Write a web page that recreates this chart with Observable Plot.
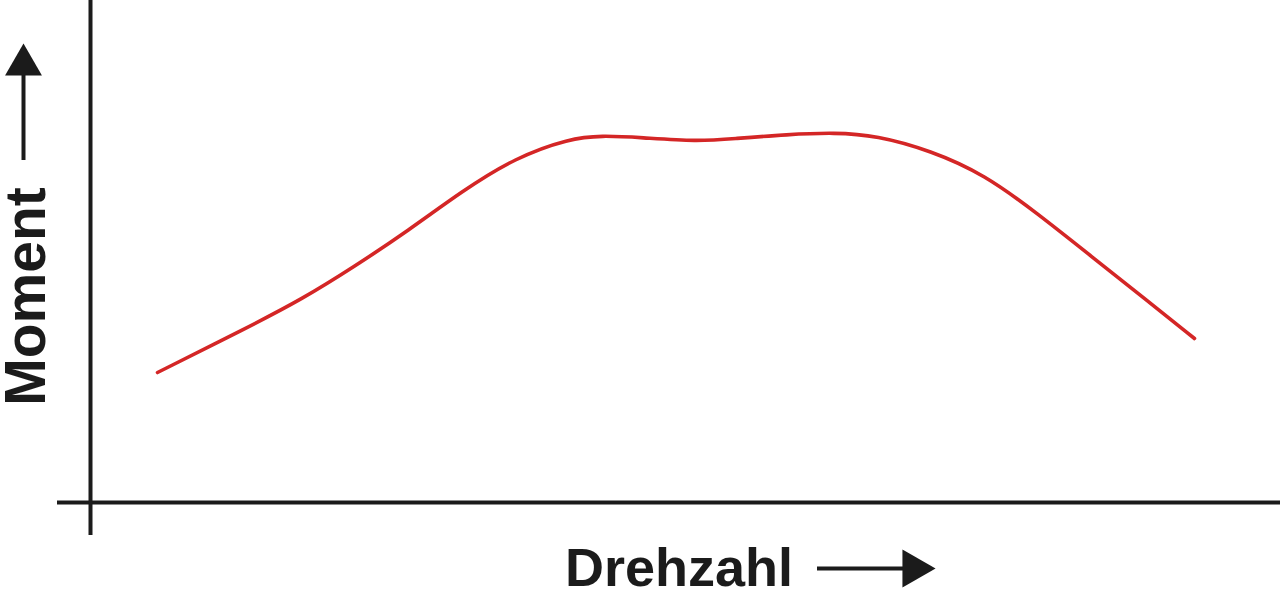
<!DOCTYPE html>
<html>
<head>
<meta charset="utf-8">
<script src="https://cdn.jsdelivr.net/npm/d3@7"></script>
<script src="https://cdn.jsdelivr.net/npm/@observablehq/plot@0.6"></script>
<style>
  html, body { margin: 0; padding: 0; background: #ffffff; }
  #chart svg { display: block; }
</style>
</head>
<body>
<div id="chart"></div>
<script>
// Schematic torque curve (Drehmoment über Drehzahl), arbitrary units
const drehzahl = [67, 157, 211, 264, 318, 371, 425, 479, 511, 550, 607, 644, 697, 744, 786, 840, 894, 947, 1001, 1054, 1104];
const moment   = [130, 175, 203, 236, 272, 311, 345, 364, 367, 365, 361, 364, 368, 370, 367, 352, 328, 289, 246, 204, 164];
const xLabel = "Drehzahl";
const yLabel = "Moment";

const data = drehzahl.map((d, i) => ({drehzahl: d, moment: moment[i]}));

const W = 1280, H = 591;
const mL = 90, mB = 89;
const xMax = W - mL;       // x domain end
const yMax = H - mB;       // y domain end
const ink = "#1b1b1b";
const red = "#d42626";
const font = "'Liberation Sans', Arial, sans-serif";

const chart = Plot.plot({
  width: W,
  height: H,
  marginLeft: mL,
  marginRight: 0,
  marginTop: 0,
  marginBottom: mB,
  style: {background: "#ffffff", fontFamily: font},
  x: {domain: [0, xMax], axis: null},
  y: {domain: [0, yMax], axis: null},
  marks: [
    // axes lines (crossing, extending slightly beyond origin)
    Plot.ruleY([0], {x1: -33, x2: xMax, stroke: ink, strokeWidth: 4}),
    Plot.ruleX([0], {y1: -33, y2: yMax, stroke: ink, strokeWidth: 4}),
    // torque curve
    Plot.line(data, {x: "drehzahl", y: "moment", curve: "basis", stroke: red, strokeWidth: 3.6, strokeLinecap: "round"}),
    // y label with arrow
    Plot.text([yLabel], {x: -64, y: 206, text: d => d, rotate: -90, fontSize: 57, fontWeight: "bold", fill: ink, textAnchor: "middle", lineAnchor: "middle"}),
    Plot.ruleX([-67], {y1: 342, y2: 432, stroke: ink, strokeWidth: 4}),
    Plot.dot([0], {x: -67, y: 437.7, symbol: "triangle", r: 13.7, fill: ink, stroke: "none"}),
    // x label with arrow
    Plot.text([xLabel], {x: 588.5, y: -66.5, text: d => d, fontSize: 54, fontWeight: "bold", fill: ink, textAnchor: "middle", lineAnchor: "middle"}),
    Plot.ruleY([-66], {x1: 727, x2: 815, stroke: ink, strokeWidth: 4}),
    Plot.dot([0], {x: 823, y: -66, symbol: "triangle", r: 14.2, rotate: 90, fill: ink, stroke: "none"})
  ]
});

document.getElementById("chart").appendChild(chart);
</script>
</body>
</html>
